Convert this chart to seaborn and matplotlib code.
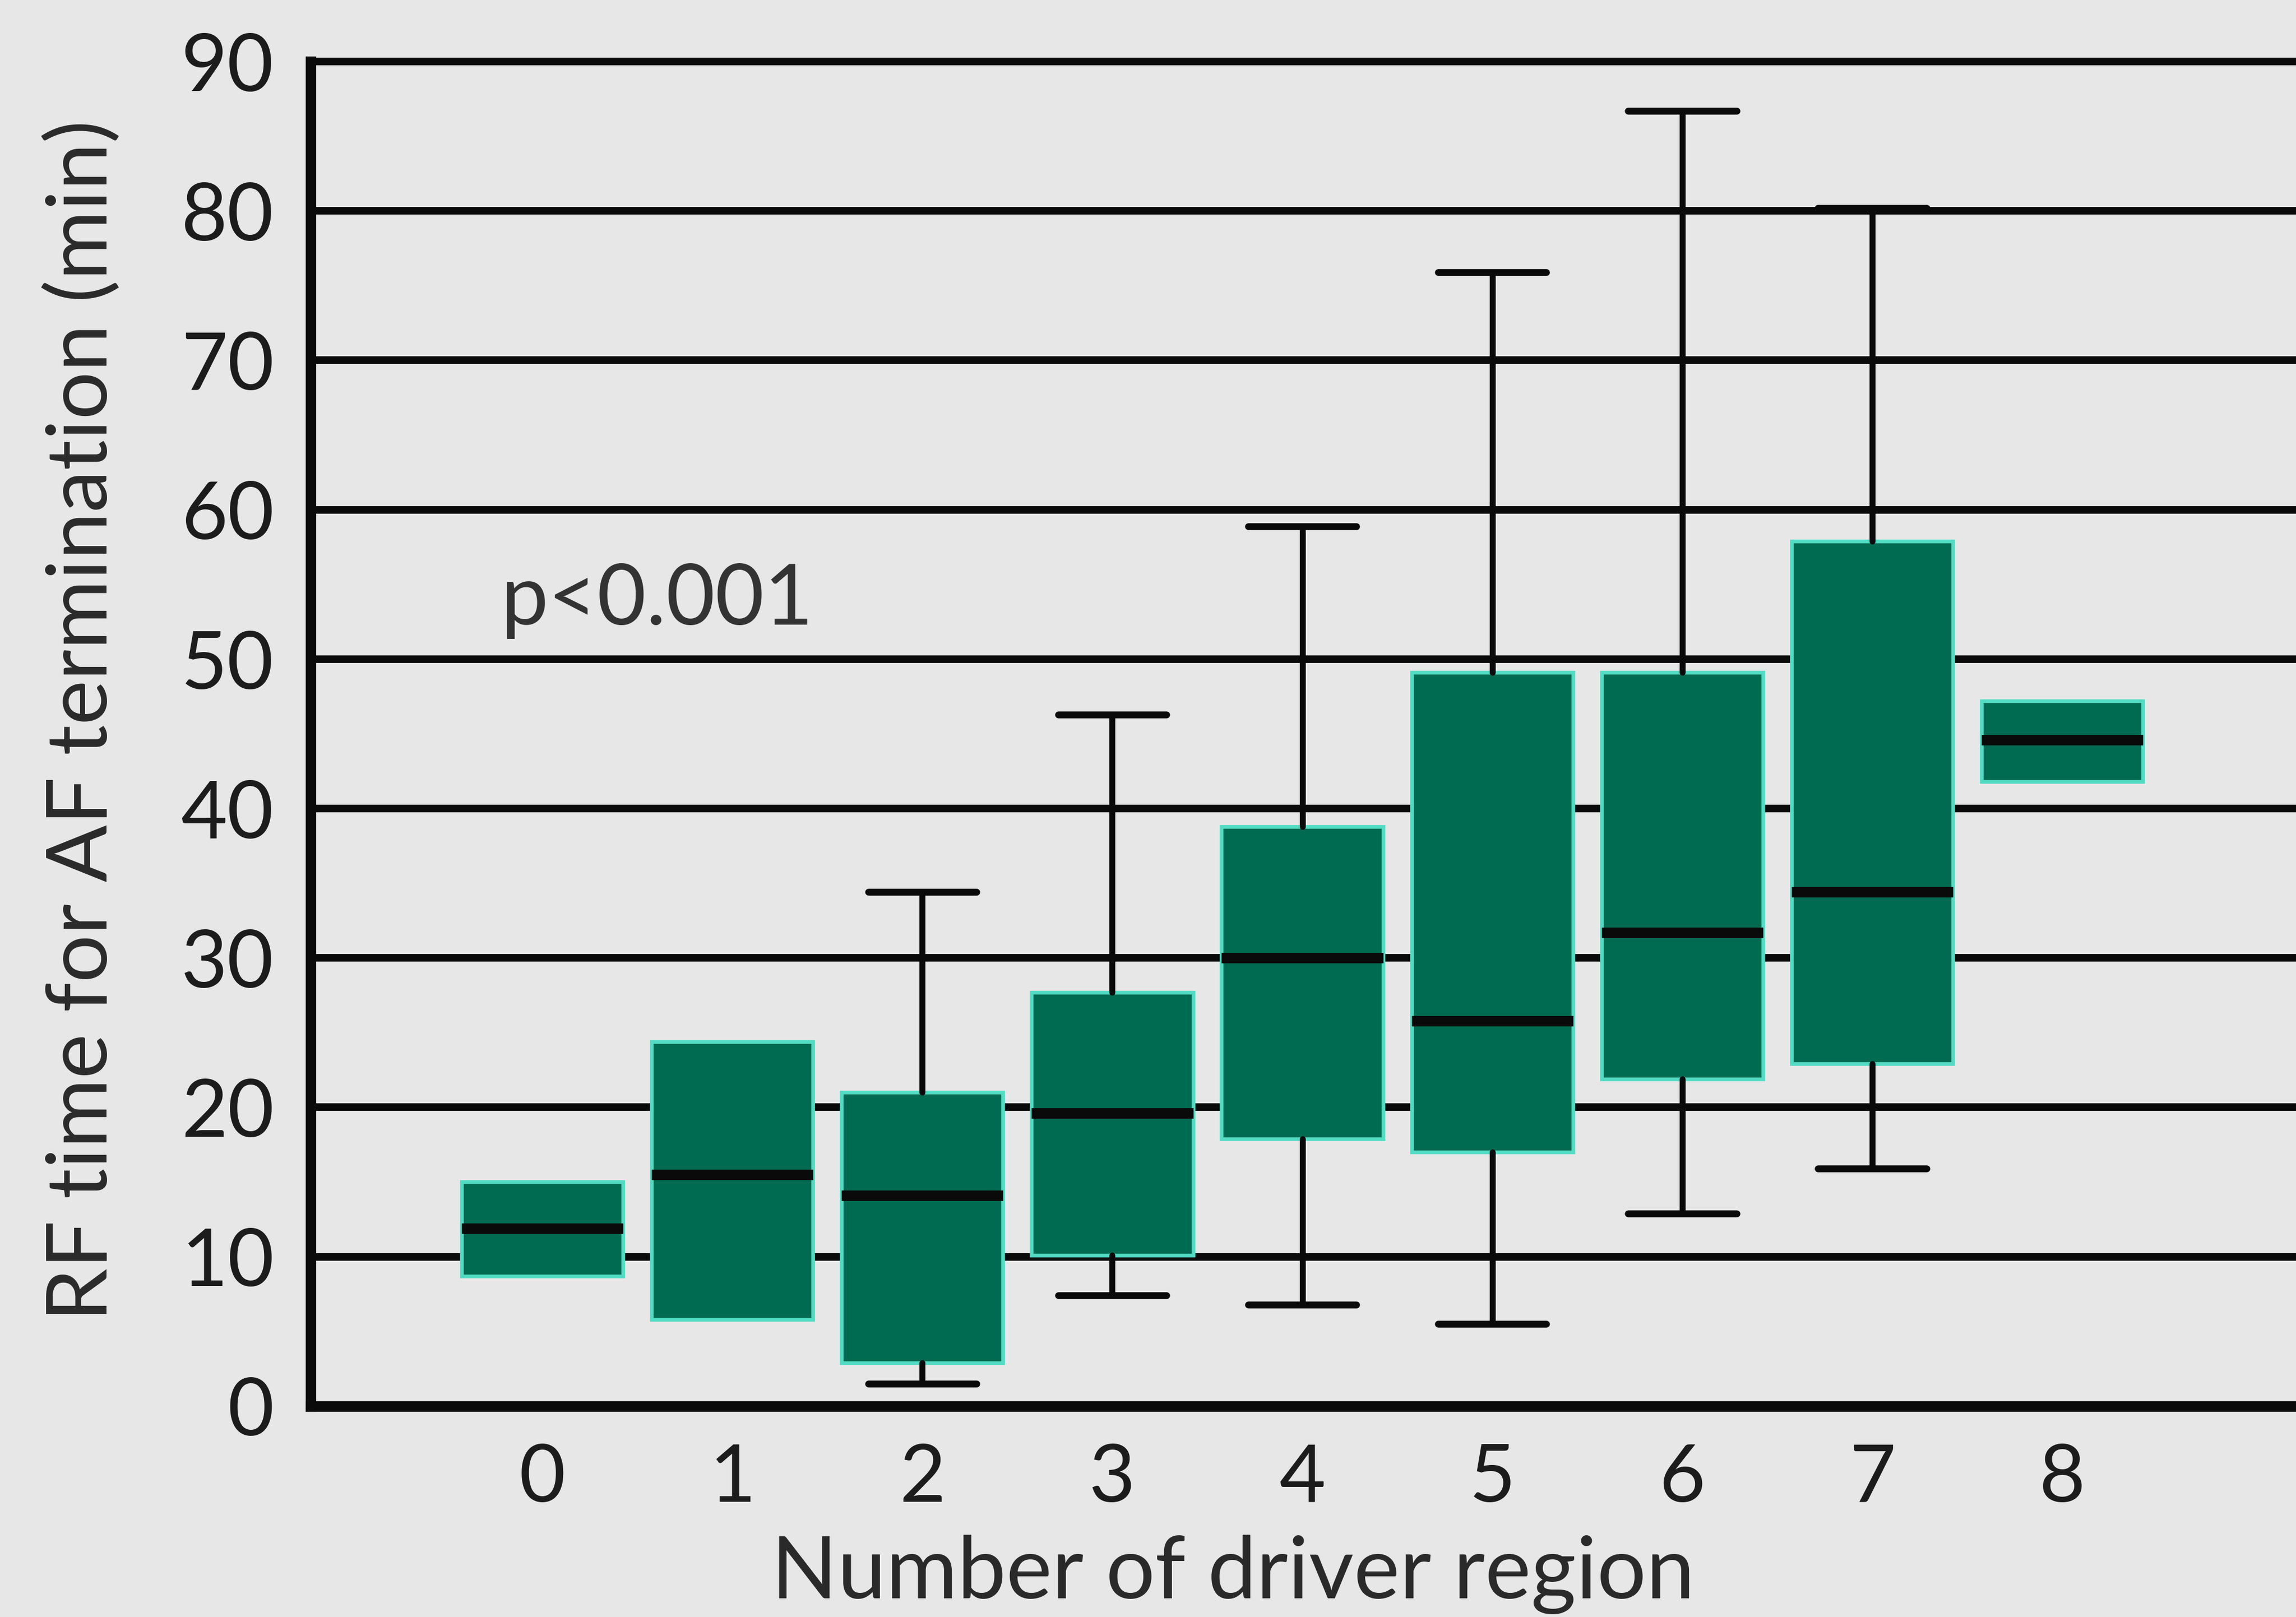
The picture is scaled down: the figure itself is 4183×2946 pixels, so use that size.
import matplotlib
matplotlib.use("Agg")
import matplotlib.pyplot as plt
import seaborn as sns

# Box-plot summary statistics of RF time (min) per number of driver regions
regions = [0, 1, 2, 3, 4, 5, 6, 7, 8]
q1 = [8.7, 5.8, 2.9, 10.1, 17.9, 17.0, 21.9, 22.9, 41.8]
medians = [11.9, 15.5, 14.1, 19.6, 30.0, 25.8, 31.7, 34.4, 44.6]
q3 = [15.0, 24.4, 21.0, 27.7, 38.8, 49.1, 49.1, 57.9, 47.2]
whisker_low = [8.7, 5.8, 1.5, 7.4, 6.8, 5.5, 12.9, 15.9, 41.8]
whisker_high = [15.0, 24.4, 34.4, 46.3, 58.9, 75.9, 86.7, 80.2, 47.2]

y_ticks = [0, 10, 20, 30, 40, 50, 60, 70, 80, 90]
x_label = "Number of driver region"
y_label = "RF time for AF termination (min)"
p_text = "p<0.001"

BG = "#e7e7e7"
BOX_FILL = "#006b50"
BOX_EDGE = "#52dcc4"
INK = "#1c1c1c"

sns.set_theme(style="white")
plt.rcParams["font.family"] = ["Lato", "DejaVu Sans"]

fig = plt.figure(figsize=(4183 / 300, 2946 / 300), dpi=300, facecolor=BG)
ax = fig.add_axes([212 / 1568, 1 - 960 / 1104, (1568 - 212) / 1568, (960 - 42) / 1104])
ax.set_facecolor(BG)

stats = []
for r, lo, a, m, b, hi in zip(regions, whisker_low, q1, medians, q3, whisker_high):
    stats.append({"label": str(r), "whislo": lo, "q1": a, "med": m,
                  "q3": b, "whishi": hi, "fliers": []})

art = ax.bxp(
    stats, positions=regions, widths=0.85, capwidths=0.57,
    patch_artist=True, showfliers=False, manage_ticks=False,
    boxprops=dict(facecolor=BOX_FILL, edgecolor=BOX_EDGE, linewidth=1.6),
    medianprops=dict(color="#0a0a0a", linewidth=4.6, solid_capstyle="butt"),
    whiskerprops=dict(color="#0a0a0a", linewidth=2.6),
    capprops=dict(color="#0a0a0a", linewidth=3.0),
    zorder=3,
)
# groups whose whiskers coincide with the box edges show no whisker caps
for i, (lo, a, b, hi) in enumerate(zip(whisker_low, q1, q3, whisker_high)):
    if lo == a:
        art["caps"][2 * i].set_visible(False)
        art["whiskers"][2 * i].set_visible(False)
    if hi == b:
        art["caps"][2 * i + 1].set_visible(False)
        art["whiskers"][2 * i + 1].set_visible(False)

ax.set_xlim(-1.22, 9.23)
ax.set_ylim(0, 90)
ax.set_yticks(y_ticks)
ax.set_xticks(regions)
ax.set_xticklabels([str(r) for r in regions])

ax.grid(axis="y", color="#0a0a0a", linewidth=3.3)
ax.grid(axis="x", visible=False)
ax.set_axisbelow(True)

for side in ["left", "bottom"]:
    ax.spines[side].set_visible(True)
    ax.spines[side].set_color("#0a0a0a")
    ax.spines[side].set_linewidth(4.6)
ax.spines["top"].set_visible(True)
ax.spines["top"].set_color("#0a0a0a")
ax.spines["top"].set_linewidth(3.3)
ax.spines["right"].set_visible(False)

ax.tick_params(axis="y", length=4, width=3, color="#0a0a0a", pad=12,
               labelsize=35, labelcolor=INK)
ax.tick_params(axis="x", length=0, pad=16, labelsize=35, labelcolor=INK)

ax.set_xlabel(x_label, fontsize=38, color="#2a2a2a", va="center")
ax.xaxis.set_label_coords((842 - 212) / (1568 - 212), -(1075 - 960) / (960 - 42))
ax.set_ylabel(y_label, fontsize=37, color="#2a2a2a", va="center")
ax.yaxis.set_label_coords(-(212 - 56) / (1568 - 212), (960 - 492) / (960 - 42))

ax.text(-0.22, 52.3, p_text, fontsize=37, color="#333333",
        ha="left", va="baseline")

fig.savefig("out.png", dpi=300, facecolor=BG)
